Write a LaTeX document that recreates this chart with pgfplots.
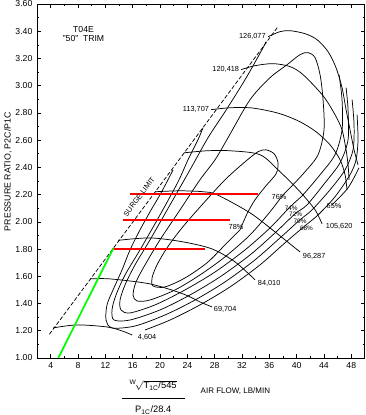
\documentclass[border=0pt]{standalone}
\usepackage{pgfplots}
\pgfplotsset{compat=1.18}
\usepackage{amsmath}
\usepackage{fontspec}
\setmainfont{Liberation Sans}
\usetikzlibrary{calc}
\begin{document}
\begin{tikzpicture}
\begin{axis}[
  name=ax,
  scale only axis,
  width=245.9pt, height=265.5pt,
  xmin=2, xmax=50, ymin=1, ymax=3.6,
  xtick={4,8,12,16,20,24,28,32,36,40,44,48},
  minor x tick num=1,
  ytick={1,1.2,1.4,1.6,1.8,2,2.2,2.4,2.6,2.8,3,3.2,3.4,3.6},
  minor y tick num=1,
  yticklabel style={/pgf/number format/.cd, fixed, fixed zerofill, precision=2},
  /pgf/number format/assume math mode=true,
  tick align=inside,
  major tick length=3pt, minor tick length=1.8pt,
  axis line style={line width=0.7pt},
  every tick/.style={black, line width=0.5pt},
  ticklabel style={font=\fontsize{6.5}{7}\selectfont},
  clip=false,
  cl/.style={black, line width=0.55pt, smooth, no marks},
]
% surge limit
\addplot[black, line width=0.55pt, dash pattern=on 3pt off 1.5pt] coordinates {(3.8,1.174) (37.28,3.434)};
% speed lines
\addplot[cl] coordinates {(4.34,1.221) (7.85,1.243) (12.24,1.228) (14.44,1.199) (15.90,1.169)};
\addplot[cl] coordinates {(9.75,1.581) (12.68,1.581) (18.54,1.544) (23.37,1.471) (25.85,1.412) (27.62,1.375)};
\addplot[cl] coordinates {(13.85,1.864) (18.54,1.882) (23.37,1.853) (27.62,1.801) (30.98,1.706) (33.91,1.574)};
\addplot[cl] coordinates {(19.27,2.221) (22.93,2.228) (26.30,2.221) (28.35,2.199) (33.18,2.066) (36.84,1.926) (40.50,1.779)};
\addplot[cl] coordinates {(23.52,2.507) (26.88,2.522) (30.25,2.522) (34.64,2.493) (37.57,2.368) (40.50,2.221) (42.70,2.088) (43.72,1.985)};
\addplot[cl] coordinates {(27.47,2.824) (30.25,2.838) (33.18,2.838) (35.82,2.816) (38.01,2.787) (40.50,2.735) (42.84,2.662) (44.89,2.566) (46.36,2.456) (47.09,2.346) (47.38,2.235)};
\addplot[cl] coordinates {(31.86,3.118) (33.91,3.147) (36.55,3.162) (39.04,3.140) (40.94,3.081) (43.87,2.926) (45.62,2.787) (46.65,2.676) (47.24,2.529) (47.53,2.419) (47.68,2.309)};
\addplot[cl] coordinates {(35.82,3.360) (37.57,3.397) (39.04,3.404) (41.23,3.382) (42.99,3.338) (44.60,3.250) (45.77,3.132) (46.65,2.985) (47.24,2.824) (47.82,2.676) (48.41,2.529) (48.99,2.419)};
% efficiency contours
\addplot[cl] coordinates {(31.71,1.941) (29.52,1.831) (26.88,1.699) (23.66,1.588) (20.73,1.522) (18.98,1.529) (18.83,1.588) (19.56,1.684) (21.03,1.809) (23.22,1.956) (26.15,2.125) (29.52,2.309) (32.45,2.441) (34.35,2.515) (35.52,2.529) (36.70,2.500) (37.28,2.434) (36.99,2.353) (35.52,2.265) (33.91,2.162) (32.74,2.059) (31.71,1.941)};
\addplot[cl] coordinates {(38.01,2.199) (36.11,2.074) (33.18,1.904) (29.52,1.743) (25.85,1.610) (22.20,1.500) (18.54,1.426) (16.63,1.419) (16.05,1.463) (16.49,1.559) (17.81,1.684) (20.00,1.868) (22.93,2.088) (25.85,2.309) (28.06,2.456) (29.96,2.618) (33.18,2.897) (36.11,3.059) (38.60,3.154) (40.50,3.228) (41.67,3.243) (42.70,3.206) (43.43,3.081) (43.87,2.897) (44.01,2.676) (43.14,2.493) (41.23,2.368) (39.04,2.250) (38.01,2.199)};
\addplot[cl] coordinates {(46.21,3.081) (46.65,2.897) (46.65,2.676) (45.62,2.493) (43.43,2.346) (40.94,2.199) (39.04,2.110) (36.11,1.956) (32.45,1.794) (28.06,1.632) (23.66,1.500) (19.27,1.390) (15.61,1.331) (14.29,1.353) (14.15,1.426) (14.88,1.537) (16.34,1.684) (18.54,1.868) (21.47,2.125) (24.39,2.382) (27.03,2.618) (29.52,2.809) (32.45,3.044) (34.94,3.265) (35.52,3.324)};
\addplot[cl] coordinates {(47.24,2.985) (47.53,2.824) (47.53,2.603) (46.36,2.434) (44.16,2.287) (41.53,2.125) (39.77,2.059) (36.84,1.919) (33.18,1.757) (28.79,1.596) (24.39,1.463) (20.00,1.353) (15.61,1.279) (13.27,1.279) (12.97,1.353) (13.56,1.463) (14.88,1.610) (17.07,1.794) (20.00,2.051) (22.64,2.294) (24.10,2.456) (25.56,2.603) (26.30,2.691)};
\addplot[cl] coordinates {(48.12,2.897) (48.41,2.713) (48.26,2.529) (47.09,2.382) (44.89,2.235) (42.26,2.088) (40.50,2.015) (37.57,1.882) (33.91,1.721) (29.52,1.559) (25.13,1.426) (20.73,1.316) (16.34,1.235) (12.97,1.221) (12.10,1.279) (12.24,1.390) (13.12,1.500) (14.44,1.647) (15.61,1.794) (17.07,1.941) (18.54,2.074) (20.00,2.199) (21.17,2.309) (21.91,2.382)};
\addplot[cl] coordinates {(48.85,2.787) (48.99,2.603) (48.70,2.456) (47.82,2.346) (45.62,2.184) (43.14,2.051) (41.23,1.971) (38.30,1.846) (34.64,1.684) (30.25,1.522) (25.85,1.390) (21.47,1.279) (17.81,1.206)};
\addplot[cl] coordinates {(49.14,2.397) (47.53,2.250) (45.19,2.125)};
% red and green lines
\addplot[red, line width=1.5pt] coordinates {(15.6,2.206) (34.35,2.206)};
\addplot[red, line width=1.5pt] coordinates {(14.54,2.01) (30.25,2.01)};
\addplot[red, line width=1.5pt] coordinates {(12.93,1.80) (26.6,1.80)};
\addplot[green, line width=1.3pt] coordinates {(5.11,1.0) (13.17,1.806)};
% labels
\begin{scope}[every node/.style={font=\fontsize{5.5}{6}\selectfont, inner sep=0.5pt}]
\node[anchor=west] at (axis cs:16.63,1.154) {4,604};
\node[anchor=west] at (axis cs:27.76,1.360) {69,704};
\node[anchor=west] at (axis cs:34.20,1.551) {84,010};
\node[anchor=west] at (axis cs:40.79,1.743) {96,287};
\node[anchor=west] at (axis cs:44.16,1.963) {105,620};
\node[anchor=east] at (axis cs:27.3,2.824) {113,707};
\node[anchor=east] at (axis cs:31.7,3.118) {120,418};
\node[anchor=east] at (axis cs:35.6,3.360) {126,077};
\node at (axis cs:31.13,1.963) {78\%};
\node at (axis cs:37.43,2.184) {76\%};
\node at (axis cs:45.48,2.118) {65\%};
\node[rotate=53] at (axis cs:16.94,2.184) {SURGE LIMIT};
\end{scope}
\begin{scope}[every node/.style={font=\fontsize{4.8}{5}\selectfont, inner sep=0pt}]
\node at (axis cs:39.2,2.100) {74\%};
\node at (axis cs:39.85,2.052) {72\%};
\node at (axis cs:40.50,2.004) {70\%};
\node at (axis cs:41.45,1.956) {68\%};
\end{scope}
\node[font=\fontsize{6.5}{7}\selectfont] at (axis cs:8.8,3.412) {T04E};
\node[font=\fontsize{6.5}{7}\selectfont] at (axis cs:8.8,3.349) {"50"\ \ TRIM};
\node[font=\fontsize{6.6}{7}\selectfont, rotate=90] at (axis cs:-2.25,2.368) {PRESSURE RATIO, P2C/P1C};
\node[font=\fontsize{7}{8}\selectfont] at (axis cs:19.0,0.80) {${}^{\text{W}}\!\sqrt{\text{T}_{\text{1C}}\text{/545}}$};
\draw[line width=0.5pt] (axis cs:14.44,0.706) -- (axis cs:23.66,0.706);
\node[font=\fontsize{7}{8}\selectfont] at (axis cs:19.0,0.618) {P$_{\text{1C}}$/28.4};
\node[font=\fontsize{6}{7}\selectfont, anchor=west] at (axis cs:25.27,0.757) {AIR FLOW, LB/MIN};
\end{axis}
\pgfresetboundingbox
\path ($(ax.south west)+(-27.8pt,-42.75pt)$) rectangle ($(ax.north east)+(0.75pt,3pt)$);
\end{tikzpicture}
\end{document}
